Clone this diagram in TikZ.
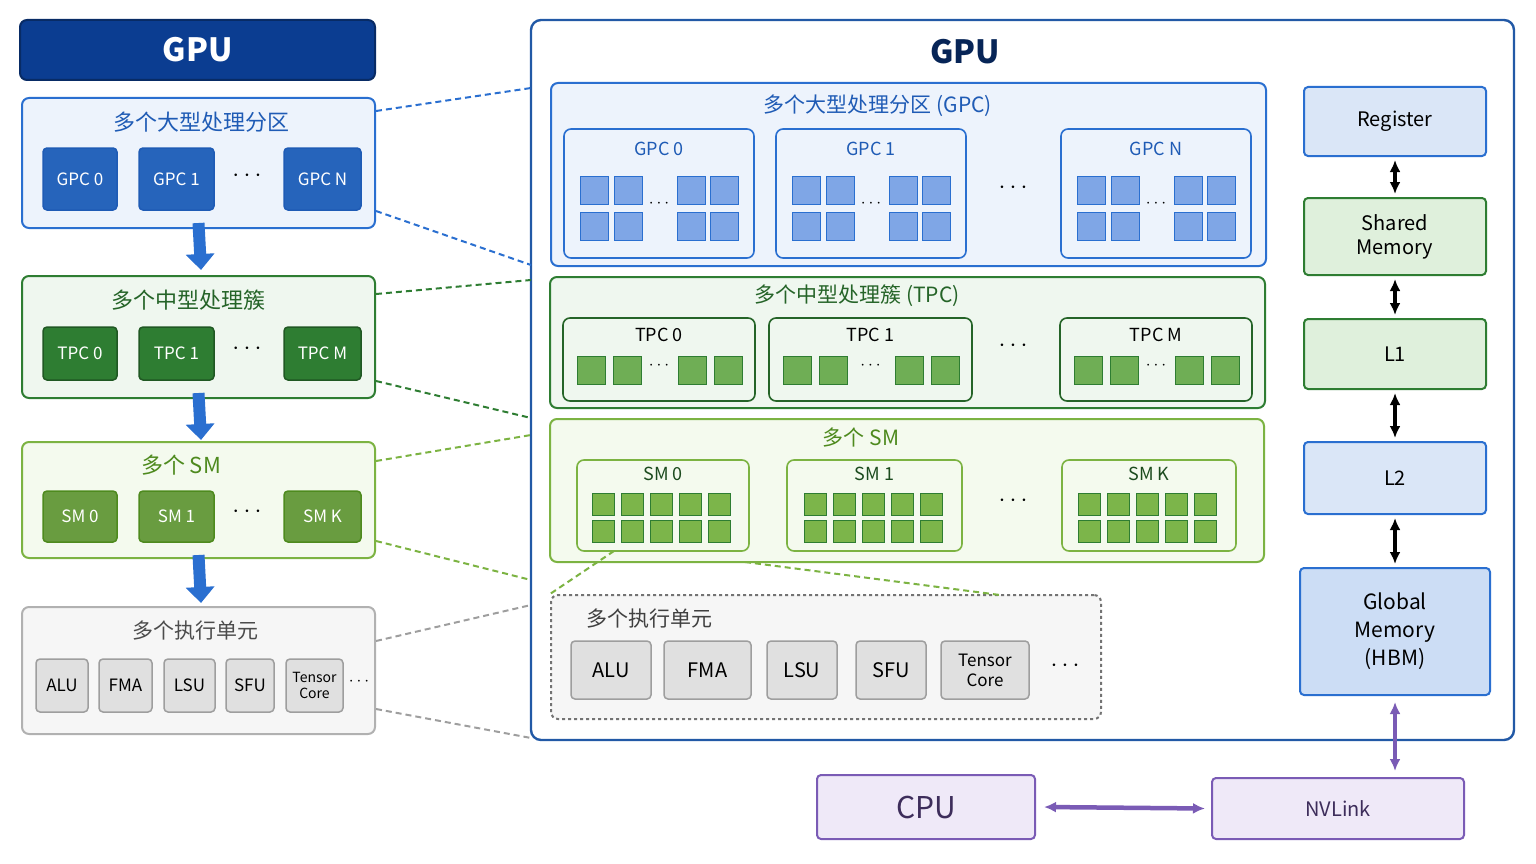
\documentclass[tikz,border=0pt]{standalone}
\usepackage{fontspec}
\setmainfont{Noto Sans CJK SC}
\usetikzlibrary{arrows.meta}
\definecolor{navy}{HTML}{0B3D91}
\definecolor{gpcline}{HTML}{2A6FD0}
\definecolor{gpcfill}{HTML}{EDF3FC}
\definecolor{gpcdark}{HTML}{1F5BB5}
\definecolor{gpcsq}{HTML}{7FA6E6}
\definecolor{tpcline}{HTML}{2E7D32}
\definecolor{tpcfill}{HTML}{EFF7EF}
\definecolor{tpcsq}{HTML}{6FAE55}
\definecolor{smline}{HTML}{7CB342}
\definecolor{smfill}{HTML}{F4FAEE}
\definecolor{smdark}{HTML}{4E8A1E}
\definecolor{smsq}{HTML}{7CB54A}
\definecolor{exline}{HTML}{9E9E9E}
\definecolor{exfill}{HTML}{F6F6F6}
\definecolor{cpuline}{HTML}{7A5BB5}
\definecolor{cpufill}{HTML}{EFE9F8}
\definecolor{memblue}{HTML}{DAE6F7}
\definecolor{memgreen}{HTML}{DFF0DC}
\definecolor{hbm}{HTML}{CCDDF5}
\newcommand\rbox[6]{\node[#1,minimum width={#4-#2},minimum height={#5-#3}] (#6) at ({(#2+#4)/2},{(#3+#5)/2})}
\tikzset{
  box/.style={draw,rounded corners=7pt,line width=2pt,inner sep=0pt},
  chip/.style={box,rounded corners=4pt,line width=1.5pt,font=\fontsize{17}{18}\selectfont},
  sq/.style={draw,line width=1.2pt,inner sep=0pt},
  link/.style={dashed,line width=2pt,dash pattern=on 6pt off 4pt},
  down/.style={-{Triangle[length=16pt,width=28pt]},line width=12pt,gpcline},
  both/.style={{Latex[length=12pt,width=11pt]}-{Latex[length=12pt,width=11pt]},line width=3.5pt},
  dots/.style={font=\fontsize{26}{26}\selectfont},
  sdots/.style={font=\fontsize{18}{18}\selectfont}
}
\begin{document}
\begin{tikzpicture}[x=1pt,y=-1pt]
\useasboundingbox (0,0) rectangle (1536,864);
% left column
\rbox{box,fill=navy,draw=navy!70!black,text=white,font=\fontsize{32}{34}\selectfont\bfseries}{20}{20}{375}{80}{lgpu} {GPU};
\rbox{box,fill=gpcfill,draw=gpcline}{22}{98}{375}{228}{lgpc} {};
\node[text=gpcdark,font=\fontsize{22}{24}\selectfont] (lgpct) at (201,122) {多个大型处理分区};
\rbox{chip,fill=gpcline!90!black,draw=gpcdark,text=white}{43}{148}{117}{210}{lg0} {GPC 0};
\rbox{chip,fill=gpcline!90!black,draw=gpcdark,text=white}{139}{148}{214}{210}{lg1} {GPC 1};
\node[dots] at (247,176) (lgd) {$\cdots$};
\rbox{chip,fill=gpcline!90!black,draw=gpcdark,text=white}{284}{148}{361}{210}{lgn} {GPC N};

\rbox{box,fill=tpcfill,draw=tpcline}{22}{276}{375}{398}{ltpc} {};
\node[text=tpcline!80!black,font=\fontsize{22}{24}\selectfont] (ltpct) at (188,300) {多个中型处理簇};
\rbox{chip,fill=tpcline,draw=tpcline!70!black,text=white}{43}{327}{117}{380}{lt0} {TPC 0};
\rbox{chip,fill=tpcline,draw=tpcline!70!black,text=white}{139}{327}{214}{380}{lt1} {TPC 1};
\node[dots] at (247,349) (ltd) {$\cdots$};
\rbox{chip,fill=tpcline,draw=tpcline!70!black,text=white}{284}{327}{361}{380}{ltm} {TPC M};

\rbox{box,fill=smfill,draw=smline}{22}{442}{375}{558}{lsm} {};
\node[text=smdark,font=\fontsize{22}{24}\selectfont] (lsmt) at (181,465) {多个 SM};
\rbox{chip,fill=smdark!85,draw=smdark,text=white}{43}{491}{117}{542}{ls0} {SM 0};
\rbox{chip,fill=smdark!85,draw=smdark,text=white}{139}{491}{214}{542}{ls1} {SM 1};
\node[dots] at (247,512) (lsd) {$\cdots$};
\rbox{chip,fill=smdark!85,draw=smdark,text=white}{284}{491}{361}{542}{lsk} {SM K};

\rbox{box,fill=exfill,draw=exline!80}{22}{607}{375}{734}{lex} {};
\node[text=black!70,font=\fontsize{21}{23}\selectfont] (lext) at (195,631) {多个执行单元};
\rbox{chip,fill=black!12,draw=exline}{36}{659}{88}{712}{lalu} {ALU};
\rbox{chip,fill=black!12,draw=exline}{99}{659}{152}{712}{lfma} {FMA};
\rbox{chip,fill=black!12,draw=exline}{164}{659}{215}{712}{llsu} {LSU};
\rbox{chip,fill=black!12,draw=exline}{226}{659}{274}{712}{lsfu} {SFU};
\rbox{chip,fill=black!12,draw=exline,align=center,font=\fontsize{14}{16}\selectfont}{286}{659}{343}{712}{ltc} {Tensor\\Core};
\node[sdots] at (359,682) (lexd) {$\cdots$};

\draw[down] (lgpc.south) ++(0,-6) -- (201,270);
\draw[down] (ltpc.south) ++(0,-6) -- (201,440);
\draw[down] (lsm.south) ++(0,-4) -- (201,603);

% right: GPU frame
\rbox{box,fill=white,draw=gpcline!80!black,rounded corners=10pt,line width=2.4pt}{531}{20}{1514}{740}{rgpu} {};
\node[font=\fontsize{32}{34}\selectfont\bfseries,text=navy!60!black] (rgput) at (965,52) {GPU};

% GPC region
\rbox{box,fill=gpcfill,draw=gpcline}{551}{83}{1266}{266}{rgpc} {};
\node[text=gpcdark,font=\fontsize{21}{23}\selectfont] (rgpct) at (878,106) {多个大型处理分区 (GPC)};
\foreach \nm/\x/\lab in {rg0/564/GPC 0,rg1/776/GPC 1,rgn/1061/GPC N}{
  \rbox{box,fill=gpcfill,draw=gpcline,line width=1.6pt}{\x}{129}{\x+190}{258}{\nm} {};
  \node[text=gpcdark,font=\fontsize{18}{20}\selectfont] at (\x+95,149) {\lab};
  \foreach \dx in {16,50,113,146}
    \foreach \y in {176,212}
      \node[sq,fill=gpcsq,draw=gpcline,minimum size=28pt,anchor=north west] at (\x+\dx,\y) {};
  \node[sdots] at (\x+95,204) {$\cdots$};
}
\node[dots] at (1013,188) {$\cdots$};

% TPC region
\rbox{box,fill=tpcfill,draw=tpcline}{550}{277}{1265}{408}{rtpc} {};
\node[text=tpcline!80!black,font=\fontsize{21}{23}\selectfont] (rtpct) at (857,296) {多个中型处理簇 (TPC)};
\foreach \nm/\x/\w/\lab in {rt0/563/192/TPC 0,rt1/769/203/TPC 1,rtm/1060/192/TPC M}{
  \rbox{box,fill=tpcfill,draw=tpcline!80!black,line width=1.6pt}{\x}{318}{\x+\w}{401}{\nm} {};
  \node[font=\fontsize{18}{20}\selectfont] at (\x+\w/2,335) {\lab};
  \foreach \dx in {14,50,\w-77,\w-41}
    \node[sq,fill=tpcsq,draw=tpcline,minimum size=28pt,anchor=north west] at (\x+\dx,356) {};
  \node[sdots] at (\x+\w/2,366) {$\cdots$};
}
\node[dots] at (1013,346) {$\cdots$};

% SM region
\rbox{box,fill=smfill,draw=smline}{550}{419}{1264}{562}{rsm} {};
\node[text=smdark,font=\fontsize{21}{23}\selectfont] (rsmt) at (861,438) {多个 SM};
\foreach \nm/\x/\w/\lab in {rs0/577/172/SM 0,rs1/787/175/SM 1,rsk/1062/174/SM K}{
  \rbox{box,fill=smfill,draw=smline,line width=1.6pt}{\x}{460}{\x+\w}{551}{\nm} {};
  \node[text=tpcline!60!black,font=\fontsize{18}{20}\selectfont] at (\x+\w/2,474) {\lab};
  \foreach \i in {0,...,4}
    \foreach \y in {493,520}
      \node[sq,fill=smsq,draw=tpcline,minimum size=22pt,anchor=north west] at (\x+\w/2-71+\i*29,\y) {};
}
\node[dots] at (1013,501) {$\cdots$};

% execution units
\rbox{box,dashed,fill=exfill,draw=black!55}{551}{595}{1101}{719}{rex} {};
\node[anchor=west,text=black!75,font=\fontsize{21}{23}\selectfont] (rext) at (583,619) {多个执行单元};
\rbox{chip,fill=black!12,draw=exline,font=\fontsize{20}{22}\selectfont}{571}{641}{651}{699}{ralu} {ALU};
\rbox{chip,fill=black!12,draw=exline,font=\fontsize{20}{22}\selectfont}{664}{641}{751}{699}{rfma} {FMA};
\rbox{chip,fill=black!12,draw=exline,font=\fontsize{20}{22}\selectfont}{767}{641}{837}{699}{rlsu} {LSU};
\rbox{chip,fill=black!12,draw=exline,font=\fontsize{20}{22}\selectfont}{856}{641}{926}{699}{rsfu} {SFU};
\rbox{chip,fill=black!12,draw=exline,align=center,font=\fontsize{17}{20}\selectfont}{941}{641}{1029}{699}{rtc} {Tensor\\Core};
\node[dots] at (1065,666) {$\cdots$};
\coordinate (zs) at (614,551);
\coordinate (ze) at (745,562);
\draw[link,smline] (zs) -- (rex.north west);
\draw[link,smline] (ze) -- (1000,595);

% memory column
\rbox{box,rounded corners=4pt,fill=memblue,draw=gpcline,font=\fontsize{20}{22}\selectfont}{1304}{87}{1486}{156}{reg} {Register};
\rbox{box,rounded corners=4pt,fill=memgreen,draw=tpcline,align=center,font=\fontsize{20}{24}\selectfont}{1304}{198}{1486}{275}{shm} {Shared\\Memory};
\rbox{box,rounded corners=4pt,fill=memgreen,draw=tpcline,font=\fontsize{20}{22}\selectfont}{1304}{319}{1486}{389}{l1} {L1};
\rbox{box,rounded corners=4pt,fill=memblue,draw=gpcline,font=\fontsize{20}{22}\selectfont}{1304}{442}{1486}{514}{l2} {L2};
\rbox{box,rounded corners=4pt,fill=hbm,draw=gpcline,align=center,font=\fontsize{21}{28}\selectfont}{1300}{568}{1490}{695}{gmem} {Global\\Memory\\(HBM)};
\draw[both] ([yshift=-3pt]reg.south) -- ([yshift=3pt]shm.north);
\draw[both] ([yshift=-3pt]shm.south) -- ([yshift=3pt]l1.north);
\draw[both] ([yshift=-3pt]l1.south) -- ([yshift=3pt]l2.north);
\draw[both] ([yshift=-3pt]l2.south) -- ([yshift=3pt]gmem.north);

% host side
\rbox{box,rounded corners=4pt,fill=cpufill,draw=cpuline,text=cpuline!50!black,font=\fontsize{30}{32}\selectfont}{817}{775}{1035}{839}{cpu} {CPU};
\rbox{box,rounded corners=4pt,fill=cpufill,draw=cpuline,text=cpuline!50!black,font=\fontsize{20}{22}\selectfont}{1212}{778}{1464}{839}{nvl} {NVLink};
\draw[both,cpuline,line width=4.5pt] ([xshift=8pt]cpu.east) -- ([xshift=-6pt]nvl.west);
\draw[both,cpuline,line width=4.5pt] ([yshift=-6pt]gmem.south) -- ([yshift=6pt]gmem.south |- nvl.north);

% left-to-right dashed links
\coordinate (a1) at (531,88);  \coordinate (a2) at (531,265);
\coordinate (b1) at (531,280); \coordinate (b2) at (531,418);
\coordinate (c1) at (531,435); \coordinate (c2) at (531,580);
\coordinate (d1) at (531,605); \coordinate (d2) at (531,738);
\draw[link,gpcline] (lgpc.north east) ++(0,14) -- (a1);
\draw[link,gpcline] (lgpc.south east) ++(0,-18) -- (a2);
\draw[link,tpcline] (ltpc.north east) ++(0,19) -- (b1);
\draw[link,tpcline] (ltpc.south east) ++(0,-18) -- (b2);
\draw[link,smline] (lsm.north east) ++(0,20) -- (c1);
\draw[link,smline] (lsm.south east) ++(0,-18) -- (c2);
\draw[link,exline] (lex.north east) ++(0,35) -- (d1);
\draw[link,exline] (lex.south east) ++(0,-26) -- (d2);
\end{tikzpicture}
\end{document}
